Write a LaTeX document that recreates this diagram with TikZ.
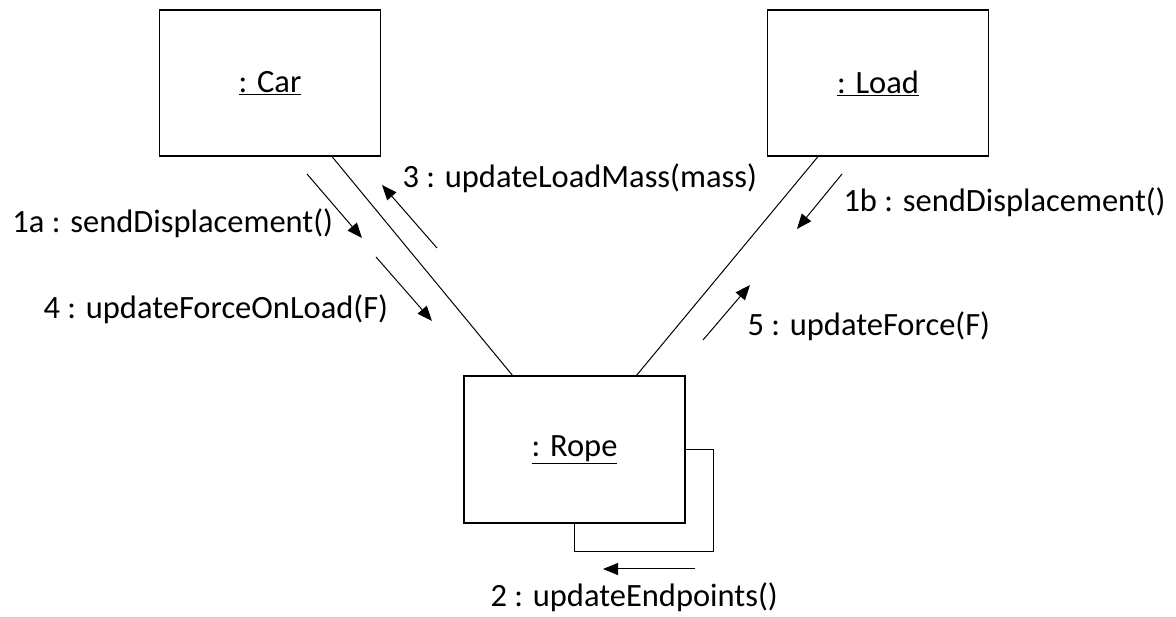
\documentclass[tikz,border=0pt]{standalone}
\usepackage{fontspec}
\setmainfont{Carlito}
\usetikzlibrary{calc, arrows.meta}
\tikzstyle{obj} = [draw, line width=1.2pt, minimum width=221pt, minimum height=146pt, inner sep=0pt]
\tikzstyle{msg} = [line width=1pt, -{Triangle[length=15pt,width=12pt]}]
\tikzstyle{lbl} = [anchor=base west, inner sep=0pt]

\begin{document}
\begin{tikzpicture}[x=1pt, y=1pt, line width=1pt, font=\fontsize{32.5}{38}\selectfont]
    \useasboundingbox (0,0) rectangle (1176,617);
    % objects
    \draw (270,534) node[obj] (car) {\underline{: Car}};
    \draw (878,534) node[obj] (load) {\underline{: Load}};
    \draw (574.5,167.5) node[obj, minimum height=147pt] (rope) {\underline{: Rope}};
    % links
    \draw ($(car.south)+(62,0)$) -- ($(rope.north)+(-62,0)$);
    \draw ($(load.south)+(-60,0)$) -- ($(rope.north)+(62,0)$);
    \draw (rope.east) -- ++(28,0) |- ($(rope.south)+(0,-28)$) -- (rope.south);
    % message arrows
    \coordinate (a1s) at (307,443); \coordinate (a1e) at (362,379);
    \coordinate (a4s) at (376,360); \coordinate (a4e) at (432,296);
    \coordinate (a3s) at (437,369); \coordinate (a3e) at (382,432);
    \coordinate (b1s) at (842,443); \coordinate (b1e) at (797,388);
    \coordinate (a5s) at (703,277); \coordinate (a5e) at (750,332);
    \coordinate (a2s) at (695,48);  \coordinate (a2e) at (603,48);
    \draw [msg] (a1s) -- (a1e);
    \draw [msg] (a4s) -- (a4e);
    \draw [msg] (a3s) -- (a3e);
    \draw [msg] (b1s) -- (b1e);
    \draw [msg] (a5s) -- (a5e);
    \draw [msg] (a2s) -- (a2e);
    % message labels
    \node[lbl] (l1a) at (12,384) {1a : sendDisplacement()};
    \node[lbl] (l4) at (43,298) {4 : updateForceOnLoad(F)};
    \node[lbl] (l3) at (402,429) {3 : updateLoadMass(mass)};
    \node[lbl] (l1b) at (843,405) {1b : sendDisplacement()};
    \node[lbl] (l5) at (747,281) {5 : updateForce(F)};
    \node[lbl] (l2) at (490,10) {2 : updateEndpoints()};
\end{tikzpicture}
\end{document}
